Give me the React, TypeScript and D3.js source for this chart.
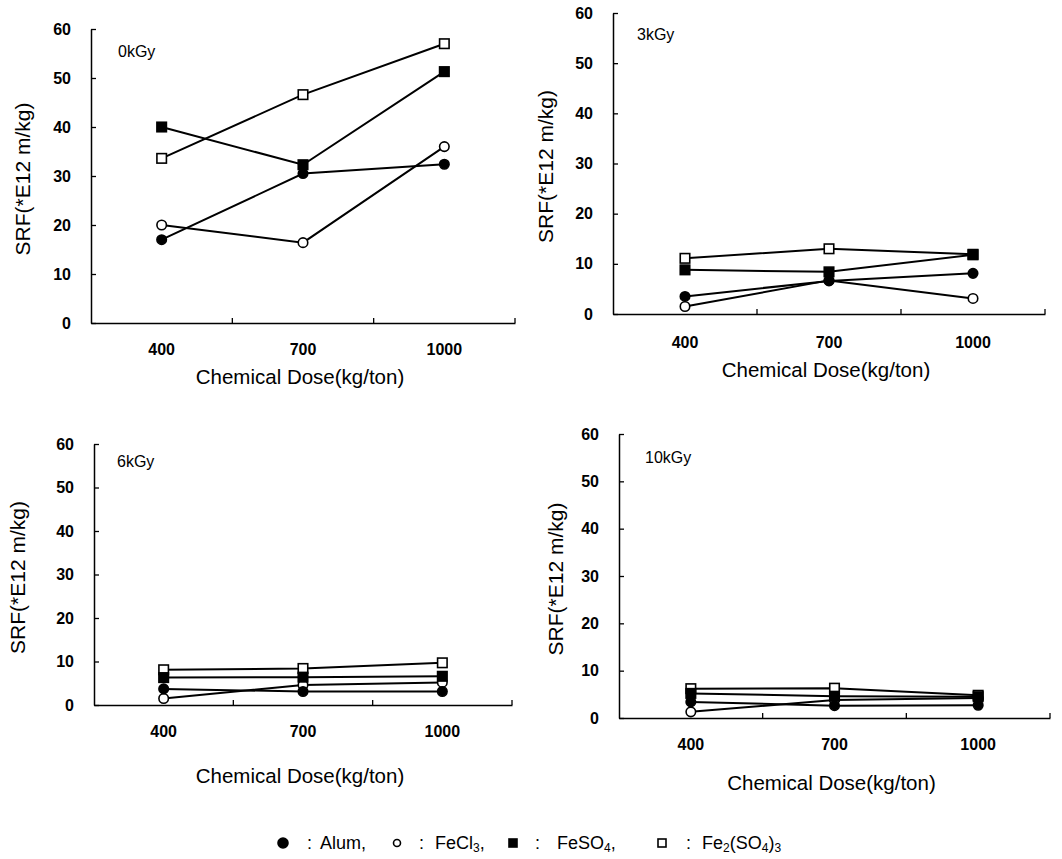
import React, { useEffect, useRef } from 'react';
import * as d3 from 'd3';

// Chemical dose categories (kg/ton) and SRF axis ticks
const doses = ['400', '700', '1000'];
const yTicks = [0, 10, 20, 30, 40, 50, 60];
const panelLabels = ['0kGy', '3kGy', '6kGy', '10kGy'];

// SRF (*E12 m/kg), one row per irradiation dose: 0, 3, 6, 10 kGy
const alum = [[17, 30.5, 32.4], [3.5, 6.6, 8.1], [3.7, 3.1, 3.1], [3.4, 2.6, 2.7]];
const fecl3 = [[20, 16.4, 36], [1.5, 6.7, 3.1], [1.5, 4.6, 5.2], [1.3, 3.8, 4.2]];
const feso4 = [[40, 32.3, 51.3], [8.8, 8.4, 11.8], [6.3, 6.4, 6.6], [5.2, 4.6, 4.5]];
const fe2so43 = [[33.6, 46.6, 57], [11.1, 13, 11.9], [8.1, 8.4, 9.7], [6.2, 6.3, 4.8]];

const FONT = '"Liberation Sans", Arial, Helvetica, sans-serif';

// drawn back to front
const series = [
  { key: 'fe2so43', values: fe2so43, shape: 'square', filled: false },
  { key: 'fecl3', values: fecl3, shape: 'circle', filled: false },
  { key: 'alum', values: alum, shape: 'circle', filled: true },
  { key: 'feso4', values: feso4, shape: 'square', filled: true },
];

// frame of each panel on the page
const panels = [
  { left: 91, right: 515, top: 29, bottom: 323, tickY: 355, titleY: 384, yTitleX: 22, tagX: 118, tagY: 57 },
  { left: 613, right: 1045, top: 13, bottom: 314, tickY: 348, titleY: 377, yTitleX: 545, tagX: 637, tagY: 40 },
  { left: 94, right: 512, top: 444, bottom: 705, tickY: 737, titleY: 783, yTitleX: 17, tagX: 117, tagY: 467 },
  { left: 619, right: 1050, top: 434, bottom: 718, tickY: 750, titleY: 790, yTitleX: 555, tagX: 645, tagY: 463 },
];

function drawMarker(g, shape, filled, cx, cy, size) {
  if (shape === 'circle') {
    g.append('circle')
      .attr('cx', cx).attr('cy', cy).attr('r', size / 2)
      .attr('fill', filled ? '#000' : '#fff')
      .attr('stroke', '#000').attr('stroke-width', 1.6);
  } else {
    g.append('rect')
      .attr('x', cx - size / 2).attr('y', cy - size / 2)
      .attr('width', size).attr('height', size)
      .attr('fill', filled ? '#000' : '#fff')
      .attr('stroke', '#000').attr('stroke-width', 1.6);
  }
}

export default function App() {
  const svgRef = useRef(null);

  useEffect(() => {
    const svg = d3.select(svgRef.current);
    svg.selectAll('*').remove();

    panels.forEach((p, pi) => {
      const g = svg.append('g');

      const x = d3.scaleBand().domain(doses).range([p.left, p.right]).paddingInner(0).paddingOuter(0);
      const y = d3.scaleLinear().domain([0, 60]).range([p.bottom, p.top]);

      // Y axis, ticks pointing inward
      const yAxis = g.append('g')
        .attr('transform', `translate(${p.left},0)`)
        .call(d3.axisLeft(y).tickValues(yTicks).tickSizeInner(-5).tickSizeOuter(0).tickPadding(20));
      yAxis.select('.domain').attr('stroke', '#000').attr('stroke-width', 1.5);
      yAxis.selectAll('.tick line').attr('stroke', '#000').attr('stroke-width', 1.3);
      yAxis.selectAll('.tick text')
        .attr('fill', '#000').attr('font-family', FONT)
        .attr('font-size', 16).attr('font-weight', 'bold');

      // X axis: labels at band centres, ticks at band boundaries
      const xAxis = g.append('g')
        .attr('transform', `translate(0,${p.bottom})`)
        .call(d3.axisBottom(x).tickSize(0).tickPadding(p.tickY - p.bottom - 11.4));
      xAxis.select('.domain').attr('stroke', '#000').attr('stroke-width', 1.5);
      xAxis.selectAll('.tick text')
        .attr('fill', '#000').attr('font-family', FONT)
        .attr('font-size', 16).attr('font-weight', 'bold');

      g.selectAll('.xtick')
        .data(doses)
        .enter()
        .append('line')
        .attr('class', 'xtick')
        .attr('x1', d => x(d) + x.bandwidth())
        .attr('x2', d => x(d) + x.bandwidth())
        .attr('y1', p.bottom)
        .attr('y2', p.bottom - 5)
        .attr('stroke', '#000')
        .attr('stroke-width', 1.3);

      // titles
      g.append('text')
        .attr('x', (p.left + p.right) / 2 - 3)
        .attr('y', p.titleY)
        .attr('text-anchor', 'middle')
        .attr('font-family', FONT)
        .attr('font-size', 20.5)
        .text('Chemical Dose(kg/ton)');

      g.append('text')
        .attr('transform', `translate(${p.yTitleX},${(p.top + p.bottom) / 2 + 3}) rotate(-90)`)
        .attr('text-anchor', 'middle')
        .attr('dominant-baseline', 'central')
        .attr('font-family', FONT)
        .attr('font-size', 21)
        .text('SRF(*E12 m/kg)');

      g.append('text')
        .attr('x', p.tagX)
        .attr('y', p.tagY)
        .attr('font-family', FONT)
        .attr('font-size', 16)
        .text(panelLabels[pi]);

      // series lines + markers
      const line = d3.line()
        .x((d, i) => x(doses[i]) + x.bandwidth() / 2)
        .y(d => y(d));

      series.forEach(s => {
        const vals = s.values[pi];
        g.append('path')
          .attr('d', line(vals))
          .attr('fill', 'none')
          .attr('stroke', '#000')
          .attr('stroke-width', 2);
        vals.forEach((v, i) => {
          drawMarker(g, s.shape, s.filled, x(doses[i]) + x.bandwidth() / 2, y(v), 9.5);
        });
      });
    });

    // Legend
    const lg = svg.append('g').attr('font-family', FONT).attr('font-size', 18);
    const ly = 849;
    const items = [
      { shape: 'circle', filled: true, size: 10, mx: 283, cx: 307, tx: 320, parts: [['Alum,', false]] },
      { shape: 'circle', filled: false, size: 7, mx: 397, cx: 419, tx: 435, parts: [['FeCl', false], ['3', true], [',', false]] },
      { shape: 'square', filled: true, size: 8, mx: 513, cx: 535, tx: 557, parts: [['FeSO', false], ['4', true], [',', false]] },
      { shape: 'square', filled: false, size: 8, mx: 662, cx: 686, tx: 702, parts: [['Fe', false], ['2', true], ['(SO', false], ['4', true], [')', false], ['3', true]] },
    ];
    items.forEach(it => {
      drawMarker(lg, it.shape, it.filled, it.mx, ly - 6, it.size);
      lg.append('text').attr('x', it.cx).attr('y', ly).text(':');
      const t = lg.append('text').attr('x', it.tx).attr('y', ly);
      let sub = false;
      it.parts.forEach(([txt, isSub]) => {
        const dy = isSub && !sub ? 2.5 : !isSub && sub ? -2.5 : 0;
        t.append('tspan')
          .attr('dy', dy)
          .attr('font-size', isSub ? 12 : 18)
          .text(txt);
        sub = isSub;
      });
    });
  }, []);

  return (
    <svg
      ref={svgRef}
      width={1062}
      height={859}
      style={{ position: 'absolute', left: 0, top: 0, background: '#fff' }}
    />
  );
}
